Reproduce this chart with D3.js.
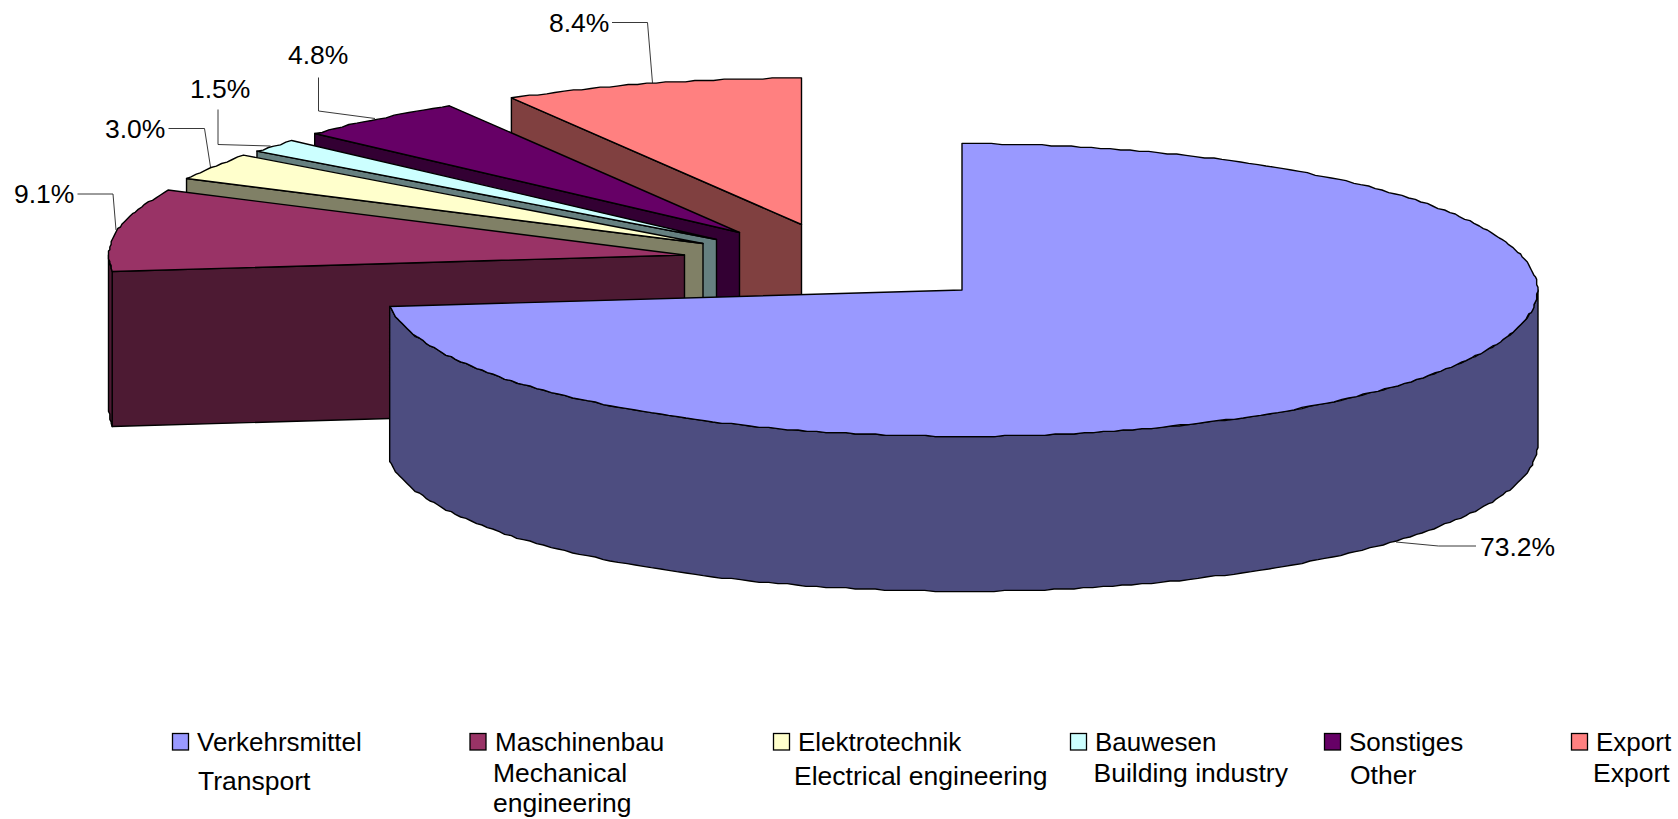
<!DOCTYPE html>
<html><head><meta charset="utf-8">
<script src="https://cdn.jsdelivr.net/npm/d3@7"></script>
<style>
html,body{margin:0;padding:0;background:#fff;overflow:hidden}
svg{display:block}
text{font-family:"Liberation Sans",Arial,sans-serif;font-size:26.5px;fill:#000}
text.de{font-size:26px}
</style></head><body>
<svg id="c" width="1678" height="819"></svg>
<script>
// ---- data ----
const categories = ["Verkehrsmittel","Maschinenbau","Elektrotechnik","Bauwesen","Sonstiges","Export"];
const englishNames = [["Transport"],["Mechanical","engineering"],["Electrical engineering"],["Building industry"],["Other"],["Export"]];
const shares = [73.2,9.1,3.0,1.5,4.8,8.4];
const valueLabels = ["73.2%","9.1%","3.0%","1.5%","4.8%","8.4%"];

// ---- styles ----
const topColors  = ["#9999FF","#993366","#FFFFCC","#CCFFFF","#660066","#FF8080"];
const wallColors = ["#4D4D80","#4D1A33","#808066","#668080","#330033","#804040"];

// ---- layout ----
const rimX = d3.scaleLinear().domain([-1,1]).range([-576,576]);
const rimY = d3.scaleLinear().domain([-1,1]).range([-146.67,146.67]);
const depth = 155;
const apexes = [[962,290],[684.5,255],[703,243.5],[716.5,239.5],[739.5,232.5],[801.5,224.5]];
const labelPos = [[1480,556],[14,203],[105,138],[190,97.5],[288,64],[549,32]];
const leaders = [
  [[1476,546],[1438.5,546],[1396,542]],
  [[77.5,194],[113,194],[116,230]],
  [[168.5,128.5],[204.5,128.5],[210.5,167]],
  [[218,109.5],[218,144.5],[270.5,146]],
  [[318.5,77.5],[318.5,111],[375,118.5]],
  [[612,22.5],[647.5,22.5],[652.5,83]]
];
const legendLayout = [
  {sw:172,  tx:197,  ex:198,  ey:[790]},
  {sw:469.5,tx:495,  ex:493,  ey:[782,812]},
  {sw:773,  tx:798,  ex:794,  ey:[785]},
  {sw:1070, tx:1095, ex:1093.5,ey:[782]},
  {sw:1324, tx:1349, ex:1350, ey:[784]},
  {sw:1571, tx:1596, ex:1593, ey:[782]}
];

const svg = d3.select("#c");
const pie = d3.pie().sort(null).value(d=>d);
const arcs = pie(shares);
const line = d3.line().curve(d3.curveLinear);

// the rim of the original is a polyline snapped to a fine device grid
const GRID = 4/3;
const snap = v => Math.sign(v)*GRID*Math.round((Math.abs(v)-0.4)/GRID);
const rim = (i,a,snapped) => {
  const dx = rimX(Math.sin(a)), dy = rimY(-Math.cos(a));
  return [apexes[i][0]+(snapped?snap(dx):dx), apexes[i][1]+(snapped?snap(dy):dy)];
};
const down = p => [p[0],p[1]+depth];
function rimPoints(i,a0,a1){
  const step = Math.PI/180;
  const n = Math.max(1,Math.ceil((a1-a0)/step));
  return d3.range(n+1).map(k=>rim(i,a0+(a1-a0)*k/n,k>0&&k<n));
}

// paint back to front: last category first, largest slice on top
d3.range(arcs.length-1,-1,-1).forEach(i=>{
  const {startAngle:a0,endAngle:a1} = arcs[i];
  const g = svg.append("g").attr("stroke","#000").attr("stroke-width",1.4).attr("stroke-linejoin","round");
  const apex = apexes[i];

  // cut face at the start angle
  if(i>0){
    const p = rim(i,a0,false);
    g.append("path").attr("d",line([apex,p,down(p),down(apex)])+"Z").attr("fill",wallColors[i]);
  }
  // outer wall: the part of the rim that faces the viewer
  const w0 = Math.max(a0,Math.PI/2), w1 = Math.min(a1,Math.PI*1.5);
  if(w1>w0){
    const top = rimPoints(i,w0,w1);
    g.append("path").attr("d",line(top.concat(top.slice().reverse().map(down)))+"Z").attr("fill",wallColors[i]);
  }
  // top surface
  g.append("path").attr("d",line([apex].concat(rimPoints(i,a0,a1)))+"Z").attr("fill",topColors[i]);
});

// value labels and leader lines
svg.append("g").selectAll("path").data(leaders).join("path")
  .attr("d",d=>line(d)).attr("fill","none").attr("stroke","#222").attr("stroke-width",0.9);
svg.append("g").selectAll("text").data(valueLabels).join("text")
  .attr("x",(d,i)=>labelPos[i][0]).attr("y",(d,i)=>labelPos[i][1]).text(d=>d);

// legend
const leg = svg.append("g").selectAll("g").data(categories).join("g");
leg.append("rect")
  .attr("x",(d,i)=>legendLayout[i].sw+0.5).attr("y",733.5).attr("width",16).attr("height",16.5)
  .attr("fill",(d,i)=>topColors[i]).attr("stroke","#000").attr("stroke-width",1.3);
leg.append("text").attr("class","de").attr("x",(d,i)=>legendLayout[i].tx).attr("y",751).text(d=>d);
leg.each(function(d,i){
  d3.select(this).selectAll("text.en").data(englishNames[i]).join("text").attr("class","en")
    .attr("x",legendLayout[i].ex).attr("y",(t,k)=>legendLayout[i].ey[k]).text(t=>t);
});
</script>
</body></html>
